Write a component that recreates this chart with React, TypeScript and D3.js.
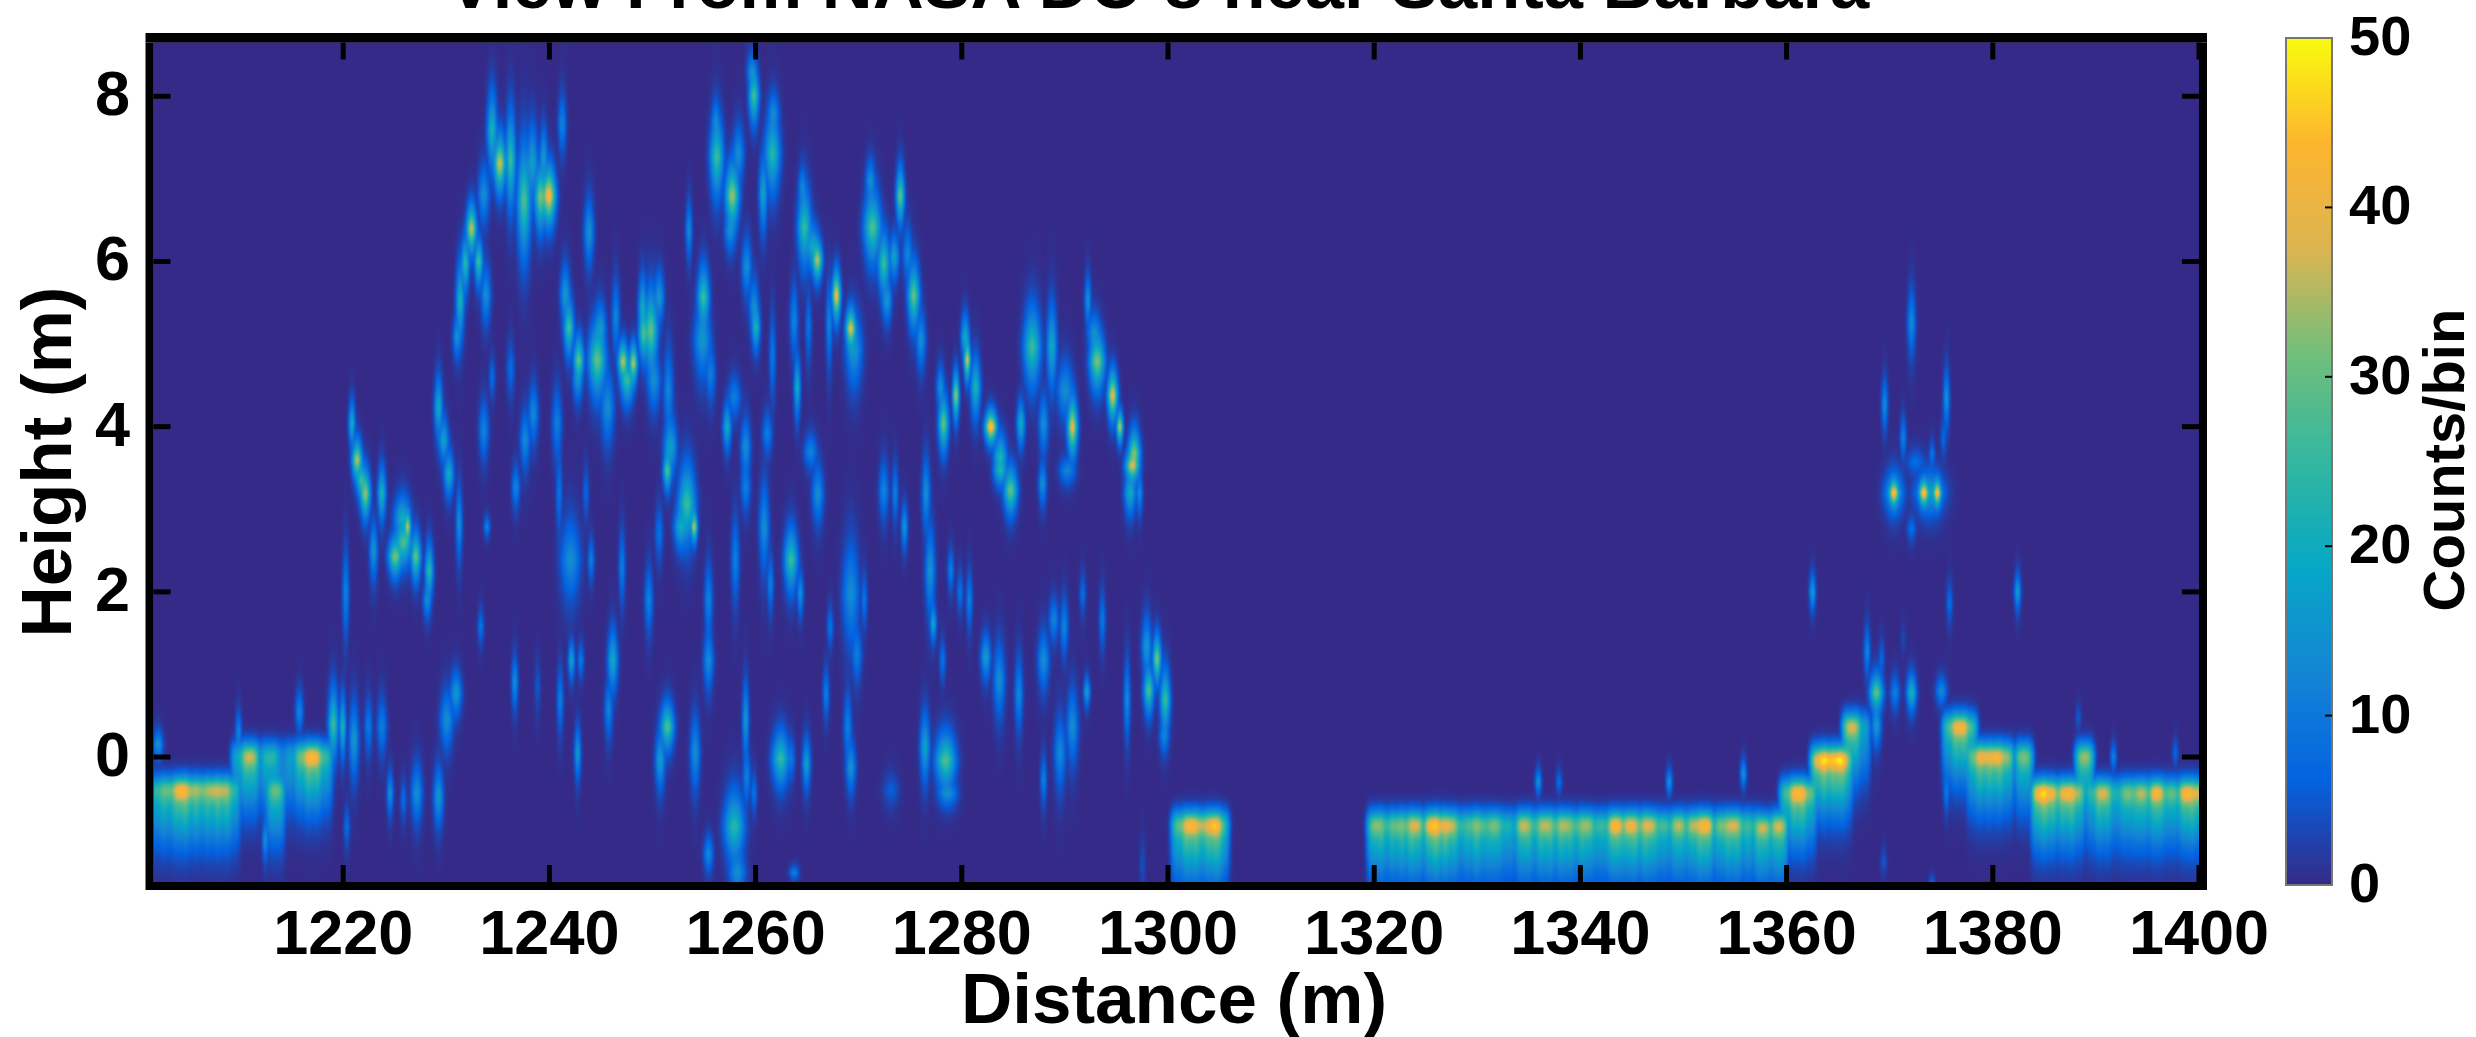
import React, { useEffect, useRef, useState } from "react";
import * as d3 from "d3";

// distance (m), height (m), peak counts, half width (m), half height (m)
type Blob = [number, number, number, number, number];
// distance (m), height (m), peak counts
type Column = [number, number, number];

const xTicks = [1220, 1240, 1260, 1280, 1300, 1320, 1340, 1360, 1380, 1400];
const yTicks = [0, 2, 4, 6, 8];
const cbTicks = [0, 10, 20, 30, 40, 50];

// MATLAB parula
const parulaStops = ["#352a87", "#0363e1", "#1485d4", "#06a7c6", "#33b7a0", "#70bf7c", "#dcb452", "#fdb52e", "#f9fb0e"];

const canopyUpperLeft: Blob[] = [
  [1235.15, 7.19, 38, 0.35, 0.35], [1234.4, 7.59, 22, 0.3, 0.5], [1236.2, 7.23, 26, 0.3, 0.6],
  [1237.5, 6.74, 28, 0.4, 0.7], [1238.3, 7.2, 18, 0.35, 0.5], [1239.9, 6.8, 44, 0.4, 0.35],
  [1239.1, 6.78, 32, 0.35, 0.4], [1239.4, 7.27, 16, 0.25, 0.4], [1241.2, 7.67, 12, 0.25, 0.4],
  [1232.4, 6.4, 37, 0.3, 0.3], [1233.6, 6.82, 14, 0.35, 0.4], [1233.1, 6.0, 26, 0.25, 0.3],
  [1231.8, 5.98, 24, 0.25, 0.35], [1231.3, 5.53, 22, 0.25, 0.5], [1231, 5.09, 14, 0.25, 0.3],
  [1233.8, 5.6, 14, 0.3, 0.4], [1243.8, 6.36, 15, 0.3, 0.45], [1241.5, 5.6, 16, 0.3, 0.4],
  [1241.85, 5.2, 27, 0.3, 0.35], [1242.8, 4.81, 30, 0.3, 0.3], [1242.7, 4.56, 14, 0.3, 0.3],
  [1244.6, 4.81, 30, 0.5, 0.45], [1244.9, 5.2, 16, 0.35, 0.35], [1245.6, 4.24, 14, 0.4, 0.5],
  [1247.1, 4.79, 36, 0.3, 0.25], [1248.1, 4.77, 36, 0.25, 0.25], [1247.5, 4.56, 26, 0.4, 0.3],
  [1246.4, 5.33, 12, 0.25, 0.5], [1249, 5.45, 20, 0.25, 0.4], [1249.8, 5.17, 30, 0.4, 0.5],
  [1250.6, 5.57, 16, 0.3, 0.35], [1249.1, 5.13, 28, 0.3, 0.35], [1250.1, 4.56, 14, 0.4, 0.4],
  [1251.5, 4.44, 12, 0.3, 0.6], [1251.7, 3.76, 18, 0.4, 0.4], [1253.5, 6.38, 13, 0.2, 0.4],
  [1254.9, 5.57, 26, 0.35, 0.4], [1254.8, 5.05, 16, 0.5, 0.5], [1255.6, 4.64, 11, 0.3, 0.4],
  [1256.2, 7.27, 26, 0.4, 0.5], [1256.1, 7.71, 12, 0.25, 0.3], [1257.7, 6.8, 34, 0.4, 0.4],
  [1258.3, 7.3, 14, 0.35, 0.4], [1257.5, 6.38, 14, 0.35, 0.3], [1259.8, 8.01, 27, 0.3, 0.35],
  [1259.6, 8.3, 14, 0.3, 0.25], [1259.1, 5.94, 14, 0.3, 0.4], [1259.8, 5.45, 14, 0.3, 0.4],
  [1229.2, 4.24, 20, 0.25, 0.4], [1229.7, 3.84, 18, 0.3, 0.3], [1220.8, 4.04, 20, 0.2, 0.3],
  [1221.3, 3.6, 36, 0.3, 0.25], [1233.6, 3.96, 12, 0.3, 0.4], [1234.4, 4.6, 8, 0.2, 0.3],
  [1236.2, 4.7, 8, 0.25, 0.4], [1238.4, 4.16, 13, 0.3, 0.4], [1237.6, 3.84, 13, 0.3, 0.4],
  [1240.7, 4.04, 11, 0.3, 0.5], [1257.2, 4, 20, 0.25, 0.3], [1257.9, 4.36, 11, 0.4, 0.3],
  [1259, 3.75, 14, 0.3, 0.4],
];

const canopyLowerLeft: Blob[] = [
  [1222.1, 3.19, 34, 0.3, 0.3], [1221.7, 3.35, 26, 0.3, 0.25], [1222.9, 2.5, 15, 0.25, 0.4],
  [1223.7, 3.19, 22, 0.25, 0.35], [1226.2, 2.79, 36, 0.2, 0.2], [1225, 2.43, 32, 0.4, 0.25],
  [1227, 2.43, 30, 0.3, 0.3], [1225.7, 2.9, 20, 0.5, 0.3], [1225.8, 2.6, 28, 0.5, 0.3],
  [1228.3, 2.26, 24, 0.25, 0.35], [1228.1, 1.9, 14, 0.25, 0.25], [1230.2, 3.43, 20, 0.3, 0.3],
  [1231.2, 2.83, 14, 0.2, 0.5], [1220.2, 1.98, 12, 0.2, 0.6], [1236.7, 3.27, 12, 0.25, 0.3],
  [1233.9, 2.79, 11, 0.15, 0.15], [1233.3, 1.58, 9, 0.2, 0.25], [1242, 2.39, 14, 0.6, 0.55],
  [1244, 2.39, 11, 0.2, 0.3], [1240.9, 3.2, 9, 0.2, 0.6], [1243.5, 3.2, 7, 0.2, 0.4],
  [1247, 2.3, 11, 0.2, 0.5], [1249.6, 1.9, 12, 0.25, 0.45], [1250.6, 2.71, 9, 0.25, 0.4],
  [1246.1, 1.17, 20, 0.3, 0.4], [1245.7, 0.57, 12, 0.25, 0.4], [1242.1, 1.17, 18, 0.15, 0.25],
  [1243, 1.17, 10, 0.15, 0.25], [1241, 0.69, 11, 0.2, 0.45], [1242.7, 0.05, 16, 0.2, 0.35],
  [1236.6, 0.9, 14, 0.2, 0.35], [1238.8, 0.85, 5, 0.15, 0.4], [1230.9, 0.77, 16, 0.35, 0.3],
  [1230, 0.45, 14, 0.4, 0.4], [1221, 0.2, 16, 0.3, 0.5], [1222.4, 0.37, 10, 0.25, 0.4],
  [1223.7, 0.37, 11, 0.3, 0.4], [1219.9, 0.37, 22, 0.2, 0.4], [1224.5, -0.44, 14, 0.2, 0.3],
  [1225.8, -0.52, 8, 0.15, 0.3], [1227.1, -0.44, 14, 0.35, 0.4], [1229.2, -0.48, 16, 0.3, 0.4],
  [1220.3, -0.84, 8, 0.15, 0.3], [1255.4, 1.17, 14, 0.3, 0.4], [1255.4, 1.9, 12, 0.25, 0.5],
  [1251.4, 0.37, 28, 0.4, 0.3], [1250.7, -0.04, 17, 0.3, 0.4], [1254.1, 0.05, 14, 0.3, 0.5],
  [1259, 0.45, 16, 0.2, 0.5], [1259.1, -0.24, 11, 0.25, 0.4], [1257.9, -0.84, 24, 0.6, 0.45],
  [1255.4, -1.17, 13, 0.3, 0.25], [1258.2, -1.4, 14, 0.5, 0.3], [1253.3, 3.07, 26, 0.5, 0.5],
  [1254, 2.79, 36, 0.2, 0.2], [1251.4, 3.47, 28, 0.25, 0.25], [1252.7, 2.79, 20, 0.4, 0.3],
  [1258, 2.39, 11, 0.25, 0.6], [1259, 3.27, 11, 0.3, 0.35],
];

const canopyUpperRight: Blob[] = [
  [1261.6, 7.31, 24, 0.45, 0.5], [1261.7, 7.8, 13, 0.35, 0.3], [1260.7, 6.82, 18, 0.25, 0.5],
  [1264.7, 6.42, 25, 0.4, 0.5], [1264.5, 6.9, 12, 0.25, 0.3], [1265.95, 6.02, 36, 0.3, 0.25],
  [1265.5, 6.18, 20, 0.4, 0.3], [1267.1, 5.25, 12, 0.2, 0.6], [1267.8, 5.59, 42, 0.25, 0.3],
  [1269.2, 5.19, 40, 0.3, 0.25], [1269.5, 4.93, 16, 0.5, 0.5], [1271.3, 6.42, 28, 0.5, 0.45],
  [1271.1, 6.98, 14, 0.3, 0.3], [1272.4, 5.98, 26, 0.35, 0.4], [1273.4, 6.06, 18, 0.3, 0.3],
  [1272.7, 5.53, 16, 0.3, 0.3], [1274, 6.8, 30, 0.25, 0.35], [1275.3, 5.59, 30, 0.35, 0.4],
  [1274.7, 6.1, 12, 0.3, 0.4], [1276, 5.05, 14, 0.3, 0.4], [1260, 5.21, 22, 0.25, 0.3],
  [1261.6, 4.85, 10, 0.2, 0.6], [1263.7, 5.29, 12, 0.25, 0.5], [1264, 4.48, 20, 0.2, 0.4],
  [1265.1, 5.21, 9, 0.2, 0.5], [1278.2, 4.04, 30, 0.3, 0.35], [1277.9, 4.48, 14, 0.25, 0.3],
  [1279.4, 4.38, 34, 0.2, 0.3], [1280.5, 4.81, 38, 0.2, 0.25], [1280.3, 5.09, 20, 0.25, 0.3],
  [1281.3, 4.48, 22, 0.3, 0.4], [1282.8, 4, 46, 0.35, 0.2], [1283.7, 3.64, 22, 0.4, 0.3],
  [1285.7, 4.04, 20, 0.25, 0.3], [1286.8, 4.97, 26, 0.5, 0.5], [1288.7, 4.97, 20, 0.3, 0.55],
  [1290.7, 4, 40, 0.3, 0.35], [1290, 4.44, 14, 0.5, 0.4], [1293.1, 4.79, 32, 0.45, 0.35],
  [1292.2, 5.53, 14, 0.15, 0.35], [1292.8, 5.13, 14, 0.4, 0.3], [1294.6, 4.38, 40, 0.3, 0.3],
  [1295.3, 4, 36, 0.15, 0.2], [1296.7, 3.68, 32, 0.35, 0.3], [1287.9, 4.04, 14, 0.3, 0.4],
  [1265.3, 3.7, 12, 0.4, 0.25], [1261.1, 3.92, 11, 0.3, 0.3],
];

const canopyLowerRight: Blob[] = [
  [1296.5, 3.53, 38, 0.4, 0.2], [1296.3, 3.2, 20, 0.35, 0.3], [1297.2, 3.2, 13, 0.2, 0.3],
  [1263.4, 2.39, 26, 0.4, 0.4], [1264.3, 1.98, 14, 0.2, 0.3], [1260.8, 2.79, 14, 0.3, 0.6],
  [1261.4, 2.1, 11, 0.2, 0.4], [1266, 3.19, 14, 0.35, 0.4], [1269.2, 1.98, 14, 0.5, 0.7],
  [1270.5, 1.9, 9, 0.2, 0.4], [1267.2, 1.58, 9, 0.2, 0.3], [1269.8, 1.25, 11, 0.3, 0.4],
  [1272.4, 3.23, 12, 0.3, 0.4], [1273.5, 3.2, 11, 0.2, 0.4], [1274.4, 2.79, 15, 0.15, 0.3],
  [1276.5, 3.19, 14, 0.25, 0.5], [1276.9, 2.26, 15, 0.3, 0.6], [1277.2, 1.62, 18, 0.2, 0.25],
  [1278.1, 1.17, 9, 0.2, 0.3], [1278.9, 2.26, 11, 0.2, 0.3], [1279.8, 2, 9, 0.2, 0.3],
  [1280.7, 1.9, 11, 0.2, 0.4], [1282.3, 1.21, 17, 0.3, 0.3], [1283.6, 0.93, 14, 0.35, 0.5],
  [1284.7, 3.23, 30, 0.4, 0.3], [1283.7, 3.47, 22, 0.4, 0.2], [1287.8, 3.31, 14, 0.25, 0.3],
  [1290.2, 3.47, 12, 0.5, 0.2], [1266.8, 0.77, 11, 0.2, 0.35], [1268.9, 0.37, 11, 0.25, 0.5],
  [1269.2, -0.12, 15, 0.3, 0.35], [1262.4, -0.02, 25, 0.5, 0.35], [1264.9, -0.08, 17, 0.25, 0.35],
  [1263.4, -0.02, 10, 0.25, 0.3], [1259.8, -0.44, 9, 0.2, 0.3], [1273.1, -0.4, 6, 0.5, 0.25],
  [1276.4, 0.12, 18, 0.3, 0.45], [1278.4, -0.04, 28, 0.6, 0.35], [1278.6, -0.44, 14, 0.6, 0.2],
  [1285.5, 0.77, 13, 0.25, 0.5], [1287.9, 1.17, 14, 0.35, 0.4], [1288.9, 1.66, 12, 0.3, 0.3],
  [1289.9, 1.58, 12, 0.25, 0.4], [1292.1, 0.79, 17, 0.15, 0.2], [1291.7, 1.98, 8, 0.15, 0.3],
  [1293.6, 1.66, 10, 0.2, 0.4], [1290.7, 0.37, 14, 0.35, 0.5], [1289.5, 0.05, 13, 0.35, 0.5],
  [1287.9, -0.28, 11, 0.2, 0.35], [1296, 0.69, 13, 0.2, 0.55], [1298.9, 1.19, 32, 0.25, 0.3],
  [1297.9, 1.34, 16, 0.3, 0.4], [1298.1, 0.81, 28, 0.3, 0.3], [1299.7, 0.69, 26, 0.3, 0.4],
  [1299.6, 0.25, 12, 0.3, 0.25], [1263.7, -1.4, 11, 0.3, 0.1], [1297.5, -1.3, 4, 0.15, 0.4],
];

const groundSpikes: Blob[] = [
  [1202, 0.15, 15, 0.3, 0.2], [1209.8, 0.3, 12, 0.2, 0.3], [1219, 0.4, 26, 0.3, 0.45],
  [1215.7, 0.55, 12, 0.25, 0.3], [1212.4, -1, 14, 0.2, 0.3], [1335.9, -0.3, 14, 0.2, 0.18],
  [1337.9, -0.3, 8, 0.2, 0.18], [1348.6, -0.3, 14, 0.2, 0.18], [1355.8, -0.2, 14, 0.2, 0.2],
  [1391.7, 0, 11, 0.2, 0.2], [1397.7, 0.05, 7, 0.15, 0.2], [1388.3, 0.48, 5, 0.2, 0.2],
];

const rockReturns: Blob[] = [
  [1370.4, 3.2, 44, 0.3, 0.17], [1373.3, 3.2, 45, 0.3, 0.17], [1374.6, 3.2, 44, 0.25, 0.17],
  [1370.4, 3.2, 18, 0.6, 0.3], [1373.9, 3.2, 18, 0.9, 0.3], [1369.5, 4.27, 13, 0.15, 0.35],
  [1375.5, 4.34, 14, 0.2, 0.4], [1371.3, 3.87, 11, 0.2, 0.3], [1374.1, 3.67, 9, 0.2, 0.2],
  [1372.1, 5.26, 13, 0.25, 0.45], [1372.1, 2.77, 8, 0.3, 0.2], [1372.5, 3.57, 8, 0.6, 0.2],
  [1375.2, 3.87, 7, 0.2, 0.3], [1362.5, 2, 16, 0.18, 0.25], [1382.4, 2, 16, 0.18, 0.25],
  [1375.8, 1.87, 8, 0.18, 0.3], [1371.3, 1.43, 3, 0.15, 0.25], [1375.5, -0.42, 10, 0.15, 0.3],
  [1369.4, -1.26, 5, 0.2, 0.2], [1374.1, -1.5, 6, 0.15, 0.1], [1369.2, 1.18, 7, 0.2, 0.3],
  [1367.8, 1.28, 12, 0.2, 0.35], [1368.7, 0.78, 30, 0.4, 0.25], [1368.7, 0.38, 16, 0.3, 0.3],
  [1370.5, 0.78, 11, 0.3, 0.25], [1372.1, 0.78, 22, 0.3, 0.25], [1375, 0.8, 13, 0.35, 0.2],
];

const groundWest: Column[] = [
  [1202, -0.41, 25], [1203, -0.41, 30], [1204.2, -0.41, 44], [1205.2, -0.41, 34], [1206.2, -0.41, 32],
  [1207.3, -0.41, 36], [1208.3, -0.41, 35], [1209.1, -0.41, 24], [1210, 0, 20], [1210.9, 0, 37],
  [1211.8, 0, 14], [1212.9, 0, 24], [1213.4, -0.41, 30], [1214.2, 0, 12], [1215.2, 0, 16],
  [1216.1, 0, 32], [1217, 0, 44], [1218, 0, 26],
];

const groundCentre: Column[] = [
  [1301.2, -0.83, 30], [1302.2, -0.83, 44], [1303.3, -0.83, 36], [1304.4, -0.83, 44], [1305, -0.83, 28],
  [1320.2, -0.83, 33], [1321.2, -0.83, 24], [1322.2, -0.83, 30], [1323.1, -0.83, 28], [1324, -0.83, 38],
  [1325.6, -0.83, 44], [1326.4, -0.83, 36], [1327.3, -0.83, 38], [1328.4, -0.83, 24], [1329.5, -0.83, 28],
  [1330.3, -0.83, 29], [1331.6, -0.83, 32], [1332.9, -0.83, 22], [1334.5, -0.83, 37], [1335.6, -0.83, 25],
  [1336.6, -0.83, 36], [1337.6, -0.83, 26], [1338.5, -0.83, 35], [1339.6, -0.83, 27], [1340.6, -0.83, 34],
  [1342, -0.83, 26], [1343.4, -0.83, 44], [1344.8, -0.83, 41], [1345.8, -0.83, 30], [1346.7, -0.83, 38],
  [1348, -0.83, 27], [1349.5, -0.83, 36], [1351, -0.83, 36], [1352.1, -0.83, 44], [1353.7, -0.83, 32],
  [1354.8, -0.83, 38], [1355.8, -0.83, 24], [1356.7, -0.83, 22], [1357.7, -0.86, 37], [1359.2, -0.84, 38],
];

const groundEast: Column[] = [
  [1360.2, -0.44, 28], [1361.1, -0.44, 44], [1362, -0.44, 32], [1363.2, -0.04, 42], [1364, -0.04, 44],
  [1365, -0.04, 44], [1365.5, -0.04, 36], [1366.3, 0.36, 38], [1367.2, 0.36, 18], [1376, 0.36, 28],
  [1376.8, 0.36, 41], [1377.6, 0.36, 28], [1378.3, 0, 30], [1379.1, 0, 40], [1380.2, 0, 42],
  [1381.2, 0, 34], [1383, 0, 32], [1384.6, -0.44, 44], [1385.4, -0.44, 40], [1386.2, -0.44, 30],
  [1387.2, -0.44, 42], [1388.1, -0.44, 34], [1388.9, 0, 34], [1389.8, -0.44, 24], [1390.7, -0.44, 38],
  [1391.8, -0.44, 22], [1393.1, -0.44, 32], [1394.4, -0.44, 36], [1395.9, -0.44, 43], [1397.3, -0.44, 30],
  [1398.8, -0.44, 44], [1399.9, -0.44, 38],
];

const blobs = [...canopyUpperLeft, ...canopyLowerLeft, ...canopyUpperRight, ...canopyLowerRight, ...groundSpikes, ...rockReturns];
const columns = [...groundWest, ...groundCentre, ...groundEast];

const font = "'Liberation Sans', Arial, sans-serif";
const left = 153.5, right = 2199, top = 42.5, bottom = 882;
const cbLeft = 2286, cbRight = 2332, cbTop = 38, cbBottom = 885;

const x = d3.scaleLinear().domain([1201.6, 1400]).range([left, right]);
const y = d3.scaleLinear().domain([-1.513, 8.651]).range([bottom, top]);
const colorPos = d3.scaleLinear().domain([0, 50]).range([cbBottom, cbTop]);
const parula = d3
  .scaleLinear<string>()
  .domain(parulaStops.map((_, i) => (i * 50) / (parulaStops.length - 1)))
  .range(parulaStops)
  .clamp(true);

// render the counts into an image: every return adds a pointy vertical streak
function renderField(): string {
  const w = Math.round(right - left);
  const h = Math.round(bottom - top);
  const acc = new Float32Array(w * h);
  const pxPerM = (right - left) / (x.domain()[1] - x.domain()[0]);
  const pxPerH = (bottom - top) / (y.domain()[1] - y.domain()[0]);

  const add = (cx: number, cy: number, rx: number, ry: number, fn: (dx: number, dy: number) => number) => {
    const x0 = Math.max(0, Math.floor(cx - rx));
    const x1 = Math.min(w - 1, Math.ceil(cx + rx));
    const y0 = Math.max(0, Math.floor(cy - ry));
    const y1 = Math.min(h - 1, Math.ceil(cy + ry));
    for (let j = y0; j <= y1; j++) {
      for (let i = x0; i <= x1; i++) {
        const v = fn((i - cx) / pxPerM, (cy - j) / pxPerH);
        acc[j * w + i] += v * v * v;
      }
    }
  };

  blobs.forEach(([d, ht, peak, sx, sy]) => {
    const wx = Math.max(sx, 0.2) * 1.55;
    const wy = sy * 0.85;
    add(x(d) - left, y(ht) - top, wx * 3 * pxPerM, wy * 6 * pxPerH, (dx, dy) =>
      peak * Math.exp(-((dx / wx) ** 2)) * Math.exp(-(Math.abs(dy / wy) ** 1.4))
    );
  });

  columns.forEach(([d, ht, peak]) => {
    const broad = 0.45 * peak + 8;
    add(x(d) - left, y(ht) - top, 3 * pxPerM, 2.2 * pxPerH, (dx, dy) => {
      const spot = (peak - broad) * Math.exp(-((dx / 0.75) ** 2)) * Math.exp(-((dy / 0.12) ** 2));
      const band = broad * Math.exp(-((Math.abs(dx) / 0.95) ** 4)) * Math.exp(-((dy / (dy > 0 ? 0.2 : 0.62)) ** 2));
      return spot + band;
    });
  });

  const lut = d3.range(256).map((i) => d3.rgb(parula((i / 255) * 50)));
  const canvas = document.createElement("canvas");
  canvas.width = w;
  canvas.height = h;
  const ctx = canvas.getContext("2d")!;
  const img = ctx.createImageData(w, h);
  for (let k = 0; k < acc.length; k++) {
    const c = lut[Math.min(255, Math.round((Math.cbrt(acc[k]) / 50) * 255))];
    img.data[k * 4] = c.r;
    img.data[k * 4 + 1] = c.g;
    img.data[k * 4 + 2] = c.b;
    img.data[k * 4 + 3] = 255;
  }
  ctx.putImageData(img, 0, 0);
  return canvas.toDataURL("image/png");
}

export default function App() {
  const [href, setHref] = useState("");
  const gradientRef = useRef<SVGLinearGradientElement>(null);

  useEffect(() => {
    setHref(renderField());
    d3.select(gradientRef.current)
      .selectAll("stop")
      .data(parulaStops)
      .join("stop")
      .attr("offset", (_, i) => i / (parulaStops.length - 1))
      .attr("stop-color", (d) => d);
  }, []);

  const frame = 8;
  const tickLen = 17;
  const tickW = 5;

  return (
    <svg
      width={2476}
      height={1037}
      style={{ position: "absolute", left: 0, top: 0, background: "#fff" }}
      fontFamily={font}
      fontWeight="bold"
      fill="#000"
    >
      <defs>
        <linearGradient id="parula" ref={gradientRef} x1="0" y1="1" x2="0" y2="0" />
      </defs>

      <text x={1158} y={8} fontSize={70.5} textAnchor="middle">View From NASA DC-8 near Santa Barbara</text>

      <rect x={left} y={top} width={right - left} height={bottom - top} fill="#352a87" />
      {href && <image href={href} x={left} y={top} width={right - left} height={bottom - top} preserveAspectRatio="none" />}

      {/* frame */}
      <rect x={left - frame} y={top - 9.5} width={right - left + 2 * frame} height={9.5} />
      <rect x={left - frame} y={bottom} width={right - left + 2 * frame} height={frame} />
      <rect x={left - frame} y={top} width={frame} height={bottom - top} />
      <rect x={right} y={top} width={frame} height={bottom - top} />

      {xTicks.map((t) => (
        <g key={t}>
          <rect x={x(t) - tickW / 2} y={top} width={tickW} height={tickLen} />
          <rect x={x(t) - tickW / 2} y={bottom - tickLen} width={tickW} height={tickLen} />
          <text x={x(t)} y={954} fontSize={63} textAnchor="middle">{t}</text>
        </g>
      ))}
      {yTicks.map((t) => (
        <g key={t}>
          <rect x={left} y={y(t) - tickW / 2} width={tickLen} height={tickW} />
          <rect x={right - tickLen} y={y(t) - tickW / 2} width={tickLen} height={tickW} />
          <text x={130} y={y(t) + 19} fontSize={63} textAnchor="end">{t}</text>
        </g>
      ))}

      <text x={1174} y={1023} fontSize={71} textAnchor="middle">Distance (m)</text>
      <text transform="translate(71,462) rotate(-90)" fontSize={71} textAnchor="middle">Height (m)</text>

      {/* colour bar */}
      <rect x={cbLeft} y={cbTop} width={cbRight - cbLeft} height={cbBottom - cbTop} fill="url(#parula)" stroke="#77776f" strokeWidth={2} />
      {cbTicks.map((t) => (
        <g key={t}>
          {t > 0 && t < 50 && <rect x={cbRight - 7} y={colorPos(t) - 1} width={7} height={2} />}
          <text x={2349} y={colorPos(t) + 17} fontSize={56}>{t}</text>
        </g>
      ))}
      <text transform="translate(2464,460) rotate(-90)" fontSize={58} textAnchor="middle">Counts/bin</text>
    </svg>
  );
}
